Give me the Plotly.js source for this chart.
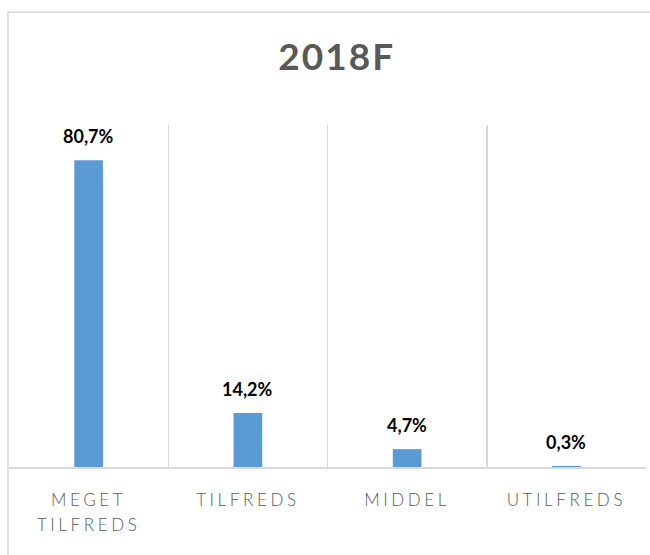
<!DOCTYPE html>
<html>
<head>
<meta charset="utf-8">
<script src="https://cdn.plot.ly/plotly-3.0.1.min.js"></script>
<style>html,body{margin:0;padding:0;background:#fff;}</style>
</head>
<body>
<div id="chart" style="width:650px;height:555px;"></div>
<script>
const categories = ["MEGET TILFREDS", "TILFREDS", "MIDDEL", "UTILFREDS"];
const tickLabels = ["MEGET<br>TILFREDS", "TILFREDS", "MIDDEL", "UTILFREDS"];
const values = [80.7, 14.2, 4.7, 0.3];
const valueLabels = ["80,7%", "14,2%", "4,7%", "0,3%"];
const chartTitle = "2018F";

const trace = {
  type: "bar",
  x: categories,
  y: values,
  width: 0.18,
  marker: {color: "#5B9BD5"},
  hoverinfo: "none"
};

const annotations = categories.map((c, i) => ({
  x: c, y: values[i], xref: "x", yref: "y",
  text: "<b>" + valueLabels[i] + "</b>",
  showarrow: false, yanchor: "middle", yshift: 24,
  font: {family: "Lato, sans-serif", size: 18, color: "#000000"}
}));

const layout = {
  width: 650, height: 555,
  margin: {l: 9, r: 4, t: 125, b: 88},
  paper_bgcolor: "#ffffff", plot_bgcolor: "#ffffff",
  showlegend: false,
  title: {
    text: "<b>" + chartTitle + "</b>",
    font: {family: "Lato, sans-serif", size: 37, color: "#595959"},
    x: 0.518, xanchor: "center", y: 0.898, yanchor: "middle", yref: "container"
  },
  xaxis: {
    type: "category",
    tickmode: "array", tickvals: categories, ticktext: tickLabels,
    tickson: "boundaries",
    showgrid: true, gridcolor: "#D9D9D9", gridwidth: 1.5,
    showline: true, linecolor: "#D9D9D9", linewidth: 1.5,
    ticks: "", ticklabelstandoff: 17,
    tickfont: {family: "Lato, sans-serif", size: 17, color: "#595959", weight: 300},
    fixedrange: true
  },
  yaxis: {
    range: [0, 90],
    showgrid: false, zeroline: false, showticklabels: false, showline: false,
    fixedrange: true
  },
  annotations: annotations,
  shapes: [{
    type: "rect", xref: "paper", yref: "paper",
    x0: -0.0016, x1: 1.05, y0: -0.35, y1: 1.33,
    line: {color: "#D9D9D9", width: 1.5}, fillcolor: "rgba(0,0,0,0)", layer: "below"
  }]
};

Plotly.newPlot("chart", [trace], layout, {displayModeBar: false, staticPlot: true}).then(() => {
  document.querySelectorAll("#chart .xtick text").forEach(t => {
    t.style.letterSpacing = "3.6px";
    const lines = t.querySelectorAll("tspan.line");
    lines.forEach((ln, k) => { if (k > 0) ln.setAttribute("dy", "25px"); });
  });
  document.querySelectorAll("#chart .gtitle").forEach(t => { t.style.letterSpacing = "2px"; });
});
</script>
</body>
</html>
